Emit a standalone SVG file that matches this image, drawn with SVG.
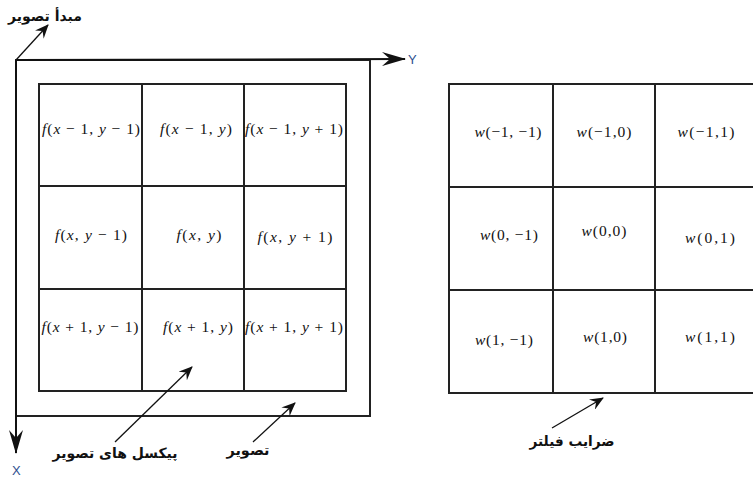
<svg xmlns="http://www.w3.org/2000/svg" width="753" height="477" viewBox="0 0 753 477">
<style>
.g{fill:none;stroke:#222;stroke-width:2}
.c{stroke:#222;stroke-width:2;fill:#fff}
.m{font-family:"Liberation Serif",serif;font-size:15.5px;fill:#111;text-anchor:middle}
.i{font-style:italic}
.ar{font-family:"DejaVu Sans",sans-serif;font-size:14px;font-weight:bold;fill:#111;text-anchor:middle;direction:rtl}
.ax{font-family:"Liberation Sans",sans-serif;font-size:13px;fill:#2f4f8f}
.l{stroke:#111;stroke-width:1.3;fill:none}
.a{stroke:#111;stroke-width:2;fill:none}
</style>
<defs>
<marker id="h" viewBox="0 0 14 12" refX="13" refY="6" markerWidth="14" markerHeight="12" markerUnits="userSpaceOnUse" orient="auto">
<path d="M0,0 L14,6 L0,12 L5,6 Z" fill="#111"/>
</marker>
<marker id="hb" viewBox="0 0 24 14" refX="23" refY="7" markerWidth="24" markerHeight="14" markerUnits="userSpaceOnUse" orient="auto">
<path d="M0,0 L24,7 L0,14 L8,7 Z" fill="#111"/>
</marker>
</defs>
<g id="image-frame">
<rect class="g" x="16" y="60" width="354" height="356"/>
</g>
<g id="image-grid">
<rect class="c" x="39" y="84" width="307" height="307"/>
<line class="g" x1="142" y1="84" x2="142" y2="391"/>
<line class="g" x1="244" y1="84" x2="244" y2="391"/>
<line class="g" x1="39" y1="186" x2="346" y2="186"/>
<line class="g" x1="39" y1="289" x2="346" y2="289"/>
</g>
<g id="image-labels">
<text class="m" x="91" y="134" textLength="98" lengthAdjust="spacing"><tspan class="i">f</tspan>(<tspan class="i">x</tspan> − 1, <tspan class="i">y</tspan> − 1)</text>
<text class="m" x="196" y="134" textLength="72" lengthAdjust="spacing"><tspan class="i">f</tspan>(<tspan class="i">x</tspan> − 1, <tspan class="i">y</tspan>)</text>
<text class="m" x="294" y="134" textLength="98" lengthAdjust="spacing"><tspan class="i">f</tspan>(<tspan class="i">x</tspan> − 1, <tspan class="i">y</tspan> + 1)</text>
<text class="m" x="91" y="240" textLength="72" lengthAdjust="spacing"><tspan class="i">f</tspan>(<tspan class="i">x</tspan>, <tspan class="i">y</tspan> − 1)</text>
<text class="m" x="199" y="240" textLength="45" lengthAdjust="spacing"><tspan class="i">f</tspan>(<tspan class="i">x</tspan>, <tspan class="i">y</tspan>)</text>
<text class="m" x="295" y="242" textLength="75" lengthAdjust="spacing"><tspan class="i">f</tspan>(<tspan class="i">x</tspan>, <tspan class="i">y</tspan> + 1)</text>
<text class="m" x="90" y="332" textLength="97" lengthAdjust="spacing"><tspan class="i">f</tspan>(<tspan class="i">x</tspan> + 1, <tspan class="i">y</tspan> − 1)</text>
<text class="m" x="198" y="332" textLength="70" lengthAdjust="spacing"><tspan class="i">f</tspan>(<tspan class="i">x</tspan> + 1, <tspan class="i">y</tspan>)</text>
<text class="m" x="294" y="332" textLength="98" lengthAdjust="spacing"><tspan class="i">f</tspan>(<tspan class="i">x</tspan> + 1, <tspan class="i">y</tspan> + 1)</text>
</g>
<g id="filter-grid">
<rect class="c" x="449" y="84" width="310" height="309"/>
<line class="g" x1="553" y1="84" x2="553" y2="393"/>
<line class="g" x1="655" y1="84" x2="655" y2="393"/>
<line class="g" x1="449" y1="187" x2="760" y2="187"/>
<line class="g" x1="449" y1="290" x2="760" y2="290"/>
</g>
<g id="filter-labels">
<text class="m" x="508" y="137" textLength="67" lengthAdjust="spacing"><tspan class="i">w</tspan>(−1, −1)</text>
<text class="m" x="604" y="137" textLength="55" lengthAdjust="spacing"><tspan class="i">w</tspan>(−1,0)</text>
<text class="m" x="706" y="137" textLength="57" lengthAdjust="spacing"><tspan class="i">w</tspan>(−1,1)</text>
<text class="m" x="509" y="240" textLength="58" lengthAdjust="spacing"><tspan class="i">w</tspan>(0, −1)</text>
<text class="m" x="604" y="236" textLength="45" lengthAdjust="spacing"><tspan class="i">w</tspan>(0,0)</text>
<text class="m" x="710" y="243" textLength="50" lengthAdjust="spacing"><tspan class="i">w</tspan>(0,1)</text>
<text class="m" x="504" y="345" textLength="58" lengthAdjust="spacing"><tspan class="i">w</tspan>(1, −1)</text>
<text class="m" x="605" y="342" textLength="44" lengthAdjust="spacing"><tspan class="i">w</tspan>(1,0)</text>
<text class="m" x="710" y="342" textLength="50" lengthAdjust="spacing"><tspan class="i">w</tspan>(1,1)</text>
</g>
<g id="connectors">
<line class="a" x1="16" y1="60" x2="405" y2="59" marker-end="url(#hb)"/>
<line class="a" x1="16" y1="60" x2="16" y2="453" marker-end="url(#hb)"/>
<line class="l" x1="16" y1="60" x2="48" y2="25" marker-end="url(#h)"/>
<line class="l" x1="115" y1="442" x2="192" y2="367" marker-end="url(#h)"/>
<line class="l" x1="253" y1="442" x2="295" y2="403" marker-end="url(#h)"/>
<line class="l" x1="552" y1="428" x2="603" y2="398" marker-end="url(#h)"/>
</g>
<g id="axis-labels">
<text class="ax" x="408" y="64">Y</text>
<text class="ax" x="12" y="475">X</text>
</g>
<g id="arabic-labels">
<text class="ar" x="45" y="21" textLength="74" lengthAdjust="spacingAndGlyphs">مبدأ تصویر</text>
<text class="ar" x="115" y="458" textLength="125" lengthAdjust="spacingAndGlyphs">پیکسل های تصویر</text>
<text class="ar" x="248" y="455" textLength="43" lengthAdjust="spacingAndGlyphs">تصویر</text>
<text class="ar" x="572" y="446" textLength="85" lengthAdjust="spacingAndGlyphs">ضرایب فیلتر</text>
</g>
</svg>
